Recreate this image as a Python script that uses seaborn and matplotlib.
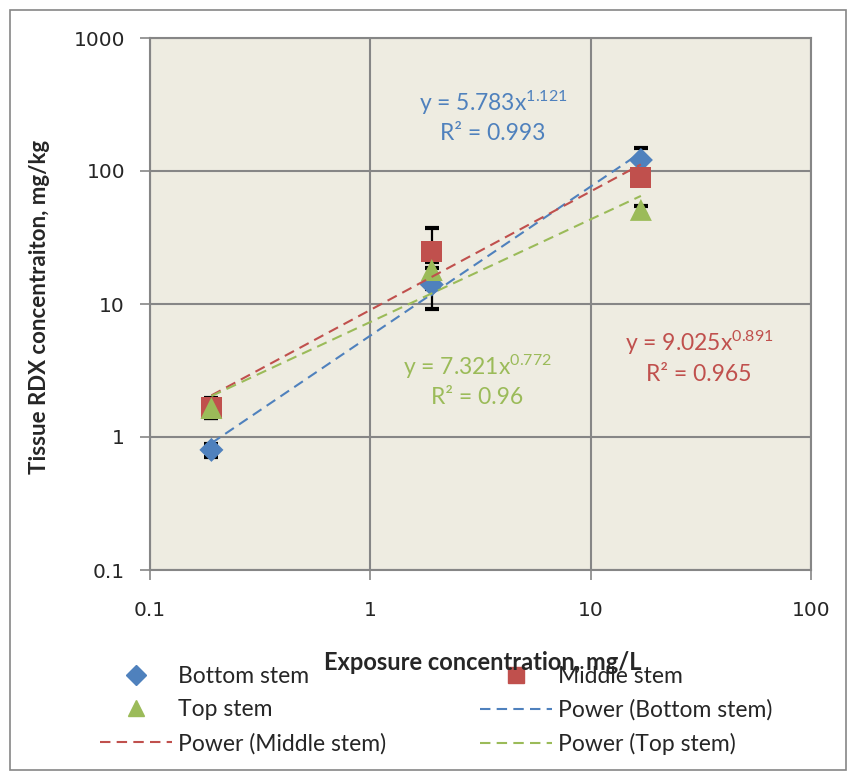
import matplotlib
matplotlib.use("Agg")
import matplotlib.pyplot as plt
from matplotlib.lines import Line2D
from matplotlib.patches import Rectangle
import numpy as np
import pandas as pd
import seaborn as sns

# Exposure levels (mg/L) and tissue RDX concentrations (mg/kg)
exposure = [0.19, 1.9, 16.9]
bottom_stem = [0.80, 14.0, 121.0]
middle_stem = [1.68, 25.0, 89.0]
top_stem = [1.65, 18.0, 51.0]
bottom_err = [0.09, 4.8, 28.0]
middle_err = [0.30, 12.0, 9.0]
top_err = [0.25, 2.7, 4.0]

# Power-law fits y = a * x^b with R^2
fit_a = {"Bottom stem": 5.783, "Middle stem": 9.025, "Top stem": 7.321}
fit_b = {"Bottom stem": 1.121, "Middle stem": 0.891, "Top stem": 0.772}
fit_r2 = {"Bottom stem": "0.993", "Middle stem": "0.965", "Top stem": "0.96"}

series = ["Bottom stem", "Middle stem", "Top stem"]
colors = {"Bottom stem": "#4F81BD", "Middle stem": "#C0504D", "Top stem": "#9BBB59"}
markers = {"Bottom stem": "D", "Middle stem": "s", "Top stem": "^"}
msizes = {"Bottom stem": 150, "Middle stem": 230, "Top stem": 250}

df = pd.DataFrame({
    "exposure": exposure * 3,
    "tissue": bottom_stem + middle_stem + top_stem,
    "err": bottom_err + middle_err + top_err,
    "series": sum([[s] * len(exposure) for s in series], []),
})

sns.set_theme(style="white")
plt.rcParams["font.family"] = ["Lato", "DejaVu Sans"]
plt.rcParams["mathtext.fontset"] = "custom"
plt.rcParams["mathtext.rm"] = "Lato"
plt.rcParams["mathtext.it"] = "Lato:italic"

FS = 16.5

fig = plt.figure(figsize=(8.51, 7.74), dpi=100)
ax = fig.add_axes([150 / 851, 1 - 570 / 774, 661 / 851, 532 / 774])
ax.set_facecolor("#EEECE1")
ax.set_xscale("log")
ax.set_yscale("log")
ax.set_xlim(0.1, 100)
ax.set_ylim(0.1, 1000)

# Error bars
for s in series:
    sub = df[df.series == s]
    ax.errorbar(sub.exposure, sub.tissue, yerr=sub.err, fmt="none",
                ecolor="black", elinewidth=1.6, capsize=5, capthick=3, zorder=3)

# Trend lines over the data range
fit_rows = []
for s in series:
    xs = np.array([min(exposure), max(exposure)])
    for xv in xs:
        fit_rows.append({"exposure": xv, "tissue": fit_a[s] * xv ** fit_b[s],
                         "series": s})
fit_df = pd.DataFrame(fit_rows)
for s in series:
    sns.lineplot(data=fit_df[fit_df.series == s], x="exposure", y="tissue",
                 color=colors[s], lw=1.5, dashes=False, ax=ax, zorder=5,
                 legend=False)
for line in ax.get_lines()[-3:]:
    line.set_dashes([5, 3])

# Data points
for s in series:
    sns.scatterplot(data=df[df.series == s], x="exposure", y="tissue",
                    marker=markers[s], color=colors[s], s=msizes[s],
                    edgecolor="none", ax=ax, zorder=4, legend=False)

# Grid and axes styling
ax.grid(True, which="major", color="#868686", lw=1.5)
ax.grid(False, which="minor")
for sp in ax.spines.values():
    sp.set_color("#868686")
    sp.set_linewidth(1.5)
ax.tick_params(which="major", direction="out", length=7, width=1.2,
               color="#868686", labelsize=14.5, left=True, bottom=True)
ax.tick_params(which="minor", length=0)
ax.set_xticks([0.1, 1, 10, 100])
ax.set_xticklabels(["0.1", "1", "10", "100"], family="DejaVu Sans")
ax.set_yticks([0.1, 1, 10, 100, 1000])
ax.set_yticklabels(["0.1", "1", "10", "100", "1000"], family="DejaVu Sans")
ax.tick_params(axis="x", pad=15)
ax.tick_params(axis="y", pad=11)
ax.set_xlabel("")
ax.set_ylabel("")

fig.text(40 / 851, 1 - 307 / 774, "Tissue RDX concentraiton, mg/kg",
         rotation=90, ha="center", va="center", fontsize=16, fontweight="bold")
fig.text(483 / 851, 1 - 663 / 774, "Exposure concentration, mg/L",
         ha="center", va="center", fontsize=17, fontweight="bold", zorder=10)

# Fit equations
eq_pos = {"Bottom stem": (493, 103), "Middle stem": (699, 343),
          "Top stem": (477, 367)}
for s in series:
    px, py = eq_pos[s]
    fig.text(px / 851, 1 - py / 774,
             f"y = {fit_a[s]:.3f}x$^{{{fit_b[s]}}}$",
             ha="center", va="center", fontsize=FS, color=colors[s])
    fig.text(px / 851, 1 - (py + 31) / 774, f"R² = {fit_r2[s]}",
             ha="center", va="center", fontsize=FS, color=colors[s])

# Legend, filled row by row
h = {s: Line2D([], [], ls="none", marker=markers[s], color=colors[s],
               markersize=12 if s != "Bottom stem" else 10) for s in series}
p = {s: Line2D([], [], ls=(0, (5, 3)), lw=1.5, color=colors[s]) for s in series}
handles = [h["Bottom stem"], h["Top stem"], p["Middle stem"],
           h["Middle stem"], p["Bottom stem"], p["Top stem"]]
labels = ["Bottom stem", "Top stem", "Power (Middle stem)",
          "Middle stem", "Power (Bottom stem)", "Power (Top stem)"]
fig.legend(handles, labels, ncol=2, loc="upper left",
           bbox_to_anchor=(79 / 851, 1 - 645 / 774), frameon=False,
           fontsize=FS, handlelength=3.15, handletextpad=0.26,
           columnspacing=4.1, labelspacing=0.55)

# Chart area border
fig.patches.append(Rectangle((10 / 851, 4 / 774), 836 / 851, 760 / 774,
                             transform=fig.transFigure, fill=False,
                             edgecolor="#868686", lw=1.2))

fig.savefig("out.png", dpi=100, facecolor="white")
